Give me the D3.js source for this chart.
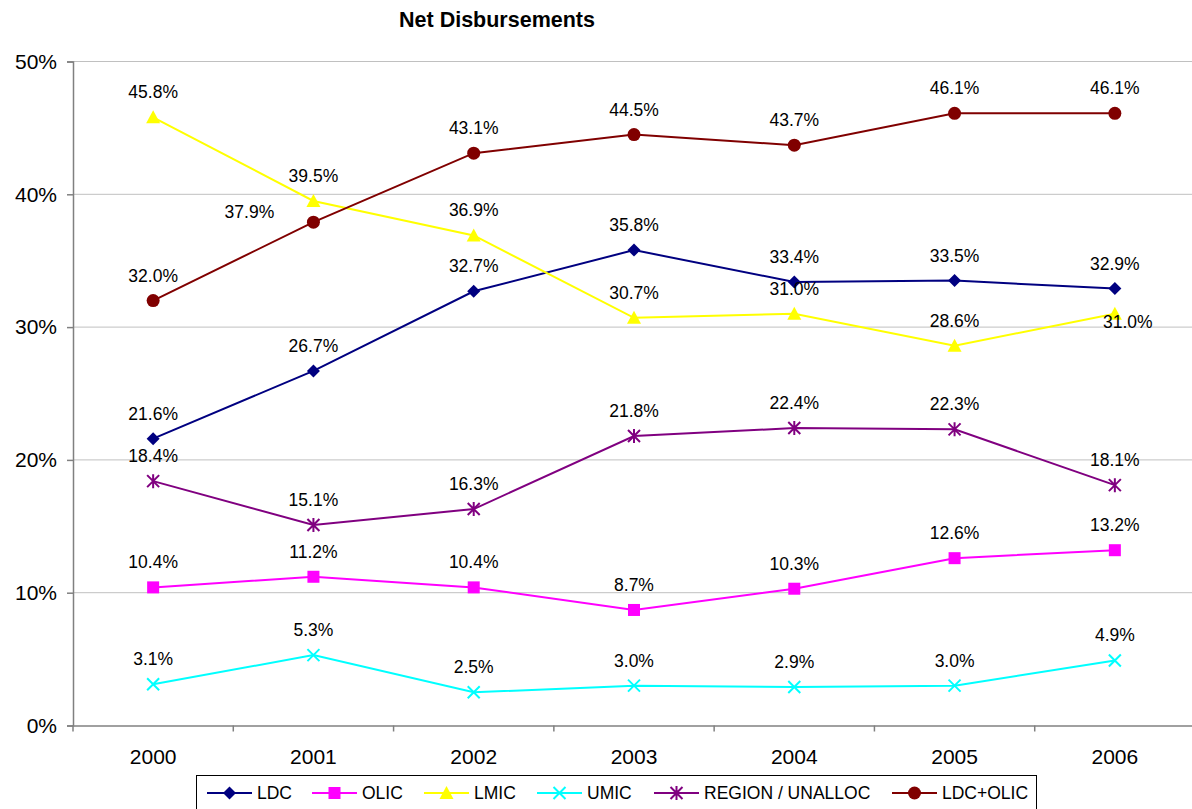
<!DOCTYPE html>
<html>
<head>
<meta charset="utf-8">
<script src="https://cdn.jsdelivr.net/npm/d3@7"></script>
<style>
  body { margin: 0; background: #fff; }
  svg { font-family: Arial, "Liberation Sans", sans-serif; }
</style>
</head>
<body>
<div id="chart"></div>
<script>
(function() {
	"use strict";
	var years = ["2000", "2001", "2002", "2003", "2004", "2005", "2006"];
	var seriesNames = ["LDC", "OLIC", "LMIC", "UMIC", "REGION / UNALLOC", "LDC+OLIC"];
	var ldc = [21.6, 26.7, 32.7, 35.8, 33.4, 33.5, 32.9];
	var olic = [10.4, 11.2, 10.4, 8.7, 10.3, 12.6, 13.2];
	var lmic = [45.8, 39.5, 36.9, 30.7, 31.0, 28.6, 31.0];
	var umic = [3.1, 5.3, 2.5, 3.0, 2.9, 3.0, 4.9];
	var region = [18.4, 15.1, 16.3, 21.8, 22.4, 22.3, 18.1];
	var ldcOlic = [32.0, 37.9, 43.1, 44.5, 43.7, 46.1, 46.1];
	var yTicks = [0, 10, 20, 30, 40, 50];

	var colors = ["#000080", "#ff00ff", "#ffff00", "#00ffff", "#800080", "#800000"];
	var shapes = ["diamond", "square", "triangle", "x", "star", "circle"];
	var values = [ldc, olic, lmic, umic, region, ldcOlic];

	var width = 1192, height = 809;
	var left = 73, right = 1195, top = 61.5, bottom = 725.5;

	var svg = d3.select("#chart").append("svg")
		.attr("width", width)
		.attr("height", height);

	var x = d3.scaleBand().domain(years).range([left, right]);
	var y = d3.scaleLinear().domain([0, 50]).range([bottom, top]);

	//title
	svg.append("text")
		.attr("x", 497).attr("y", 27)
		.attr("text-anchor", "middle")
		.attr("font-size", 21.5).attr("font-weight", "bold")
		.text("Net Disbursements");

	//grid
	svg.append("g").selectAll("line").data(yTicks.slice(1)).enter().append("line")
		.attr("x1", left).attr("x2", right)
		.attr("y1", function(d) { return y(d); })
		.attr("y2", function(d) { return y(d); })
		.attr("stroke", "#c0c0c0").attr("stroke-width", 1);

	//axes
	var yAxis = svg.append("g")
		.attr("transform", "translate(" + left + ",0)")
		.call(d3.axisLeft(y).tickValues(yTicks).tickSize(6).tickPadding(10)
			.tickFormat(function(d) { return d + "%"; }));
	yAxis.selectAll("text").attr("font-size", 21).attr("fill", "#000")
		.attr("font-family", "Arial, 'Liberation Sans', sans-serif");
	yAxis.select(".domain").attr("stroke", "#808080").attr("stroke-width", 1.5);
	yAxis.selectAll(".tick line").attr("stroke", "#808080").attr("stroke-width", 1.5);

	var xAxis = svg.append("g")
		.attr("transform", "translate(0," + bottom + ")")
		.call(d3.axisBottom(x).tickSize(0).tickPadding(24));
	xAxis.select(".domain").attr("stroke", "#808080").attr("stroke-width", 1.5);
	xAxis.selectAll("text").attr("font-size", 21).attr("fill", "#000")
		.attr("font-family", "Arial, 'Liberation Sans', sans-serif");
	//ticks between categories
	xAxis.selectAll("line.between").data(years).enter().append("line")
		.attr("class", "between")
		.attr("x1", function(d) { return x(d) + x.bandwidth(); })
		.attr("x2", function(d) { return x(d) + x.bandwidth(); })
		.attr("y1", 0).attr("y2", 6)
		.attr("stroke", "#808080").attr("stroke-width", 1.5);
	xAxis.append("line")
		.attr("x1", left).attr("x2", left).attr("y1", 0).attr("y2", 6)
		.attr("stroke", "#808080").attr("stroke-width", 1.5);

	function cx(i) { return x(years[i]) + x.bandwidth() / 2; }

	function drawMarker(g, shape, color, px, py) {
		var s = 6.5;
		if (shape === "diamond") {
			g.append("path").attr("d", "M" + px + "," + (py - s) + "L" + (px + s) + "," + py +
				"L" + px + "," + (py + s) + "L" + (px - s) + "," + py + "Z").attr("fill", color);
		} else if (shape === "square") {
			g.append("rect").attr("x", px - 6).attr("y", py - 6)
				.attr("width", 12).attr("height", 12).attr("fill", color);
		} else if (shape === "triangle") {
			g.append("path").attr("d", "M" + px + "," + (py - 7) + "L" + (px + 7) + "," + (py + 6) +
				"L" + (px - 7) + "," + (py + 6) + "Z").attr("fill", color);
		} else if (shape === "x") {
			g.append("path").attr("d", "M" + (px - 6) + "," + (py - 6) + "L" + (px + 6) + "," + (py + 6) +
				"M" + (px + 6) + "," + (py - 6) + "L" + (px - 6) + "," + (py + 6))
				.attr("stroke", color).attr("stroke-width", 2).attr("fill", "none");
		} else if (shape === "star") {
			g.append("path").attr("d", "M" + (px - 6) + "," + (py - 6) + "L" + (px + 6) + "," + (py + 6) +
				"M" + (px + 6) + "," + (py - 6) + "L" + (px - 6) + "," + (py + 6) +
				"M" + px + "," + (py - 7) + "L" + px + "," + (py + 7))
				.attr("stroke", color).attr("stroke-width", 2).attr("fill", "none");
		} else if (shape === "circle") {
			g.append("circle").attr("cx", px).attr("cy", py).attr("r", 6.5).attr("fill", color);
		}
	}

	var line = d3.line()
		.x(function(d, i) { return cx(i); })
		.y(function(d) { return y(d); });

	//label offsets "series-year": [dx, dy]
	var labelShift = {
		"2-6": [13, 33],
		"5-1": [-64, 15]
	};

	var plot = svg.append("g");
	values.forEach(function(vals, s) {
		plot.append("path").datum(vals)
			.attr("d", line)
			.attr("fill", "none")
			.attr("stroke", colors[s])
			.attr("stroke-width", 2);
	});
	values.forEach(function(vals, s) {
		var g = plot.append("g");
		vals.forEach(function(v, i) {
			drawMarker(g, shapes[s], colors[s], cx(i), y(v));
		});
	});
	values.forEach(function(vals, s) {
		vals.forEach(function(v, i) {
			var sh = labelShift[s + "-" + i] || [0, 0];
			plot.append("text")
				.attr("x", cx(i) + sh[0])
				.attr("y", y(v) - 19 + sh[1])
				.attr("text-anchor", "middle")
				.attr("font-size", 17.5)
				.attr("fill", "#000")
				.text(v.toFixed(1) + "%");
		});
	});

	//legend
	var legend = svg.append("g");
	legend.append("rect")
		.attr("x", 196.5).attr("y", 775.5)
		.attr("width", 840).attr("height", 40)
		.attr("fill", "#fff").attr("stroke", "#000").attr("stroke-width", 1);
	var legX = [207, 312, 424, 537, 654, 892];
	seriesNames.forEach(function(name, s) {
		var lx = legX[s], ly = 793;
		legend.append("line")
			.attr("x1", lx).attr("x2", lx + 45)
			.attr("y1", ly).attr("y2", ly)
			.attr("stroke", colors[s]).attr("stroke-width", 2);
		drawMarker(legend, shapes[s], colors[s], lx + 22.5, ly);
		legend.append("text")
			.attr("x", lx + 50).attr("y", ly + 6)
			.attr("font-size", 17.5)
			.text(name);
	});
}());
</script>
</body>
</html>
